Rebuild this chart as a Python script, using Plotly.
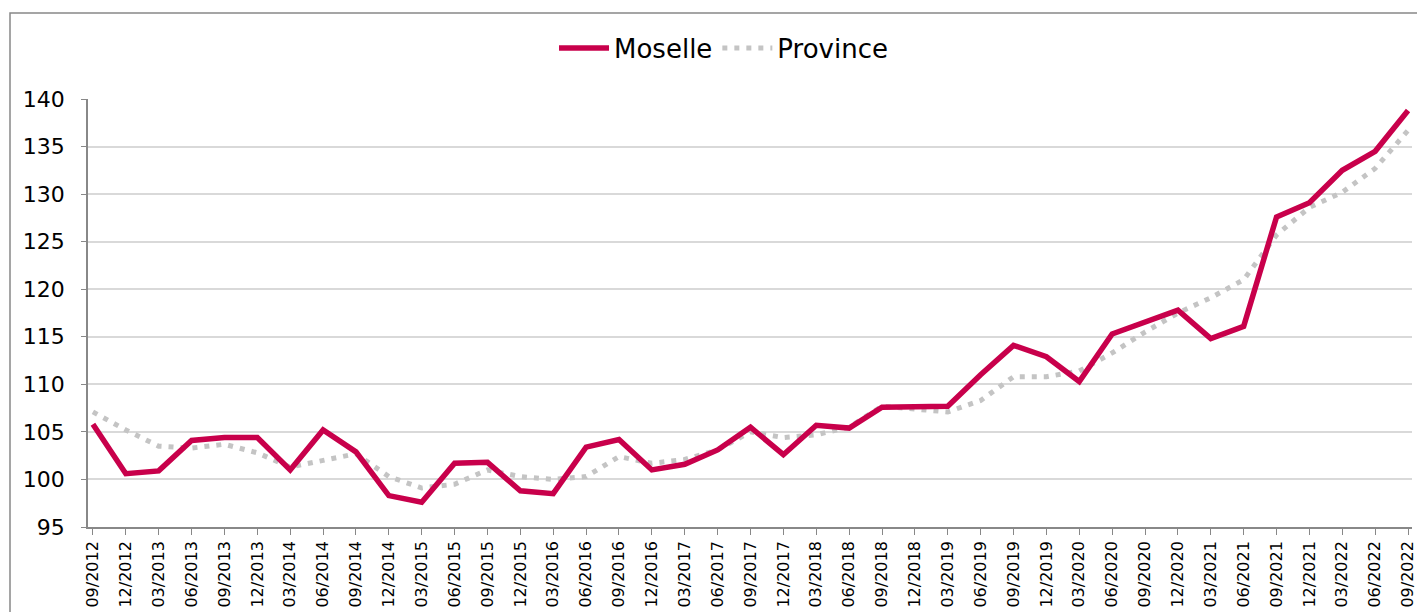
import plotly.graph_objects as go

quarters = ["09/2012", "12/2012", "03/2013", "06/2013", "09/2013", "12/2013",
            "03/2014", "06/2014", "09/2014", "12/2014", "03/2015", "06/2015",
            "09/2015", "12/2015", "03/2016", "06/2016", "09/2016", "12/2016",
            "03/2017", "06/2017", "09/2017", "12/2017", "03/2018", "06/2018",
            "09/2018", "12/2018", "03/2019", "06/2019", "09/2019", "12/2019",
            "03/2020", "06/2020", "09/2020", "12/2020", "03/2021", "06/2021",
            "09/2021", "12/2021", "03/2022", "06/2022", "09/2022"]

moselle = [105.8, 100.6, 100.9, 104.1, 104.4, 104.4, 101.0, 105.2, 102.9, 98.3,
           97.6, 101.7, 101.8, 98.8, 98.5, 103.4, 104.2, 101.0, 101.6, 103.1,
           105.5, 102.6, 105.7, 105.4, 107.6, 107.6, 107.7, 111.0, 114.1, 112.9,
           110.3, 115.3, 116.6, 117.8, 114.8, 116.1, 127.6, 129.1, 132.5, 134.5,
           138.8]

province = [107.1, 105.2, 103.5, 103.3, 103.7, 102.8, 101.3, 102.0, 102.7, 100.3,
            99.1, 99.5, 101.0, 100.3, 100.0, 100.3, 102.4, 101.7, 102.1, 103.1,
            105.0, 104.4, 104.7, 105.5, 107.7, 107.4, 107.1, 108.3, 110.8, 110.8,
            111.4, 113.3, 115.5, 117.5, 119.1, 121.0, 125.7, 128.6, 130.2, 132.7,
            136.7]

y_ticks = [95, 100, 105, 110, 115, 120, 125, 130, 135, 140]

fig = go.Figure()
fig.add_trace(go.Scatter(x=quarters, y=province, name="Province", mode="lines",
                         line=dict(color="#c4c4c4", width=5, dash="5px,7px")))
fig.add_trace(go.Scatter(x=quarters, y=moselle, name="Moselle", mode="lines",
                         line=dict(color="#c8004b", width=5.5)))

# page is drawn with an 8px body offset; compensate
OFF = 8
W, H = 1425, 612
L, T = 88 - OFF, 99 - OFF
R = W - (1412 - OFF)
B = H - (527 - OFF)
pw, ph = W - L - R, H - T - B

fig.update_layout(
    width=W, height=H,
    margin=dict(l=L, r=R, t=T, b=B, autoexpand=False),
    paper_bgcolor="white", plot_bgcolor="white",
    font=dict(family="DejaVu Sans", color="#000000"),
    showlegend=True,
    legend=dict(orientation="h", x=0.48, xanchor="center",
                y=(H - B - (48 - OFF)) / ph, yanchor="middle",
                bgcolor="rgba(0,0,0,0)",
                font=dict(size=26), traceorder="reversed", itemwidth=50),
    xaxis=dict(type="category", range=[-0.15, 40.12], showgrid=False,
               showline=True, linecolor="#888888", linewidth=1.5,
               ticks="outside", ticklen=6, tickcolor="#888888",
               tickangle=-90, tickfont=dict(size=16), tickmode="array",
               tickvals=quarters, ticktext=quarters, automargin=False),
    yaxis=dict(range=[95, 140], tickvals=y_ticks, showgrid=True,
               gridcolor="#d9d9d9", gridwidth=1.5,
               showline=True, linecolor="#888888", linewidth=1.5,
               ticks="outside", ticklen=5, tickcolor="#888888",
               ticklabelstandoff=12,
               tickfont=dict(size=22), zeroline=False, automargin=False),
    shapes=[dict(type="rect", xref="paper", yref="paper",
                 x0=(10 - OFF - L) / pw, x1=(W + 5 - L) / pw,
                 y0=(H - B - (H + 5)) / ph, y1=(H - B - (13 - OFF)) / ph,
                 line=dict(color="#888888", width=1.5), layer="below")],
)

fig.write_html("out.html")
